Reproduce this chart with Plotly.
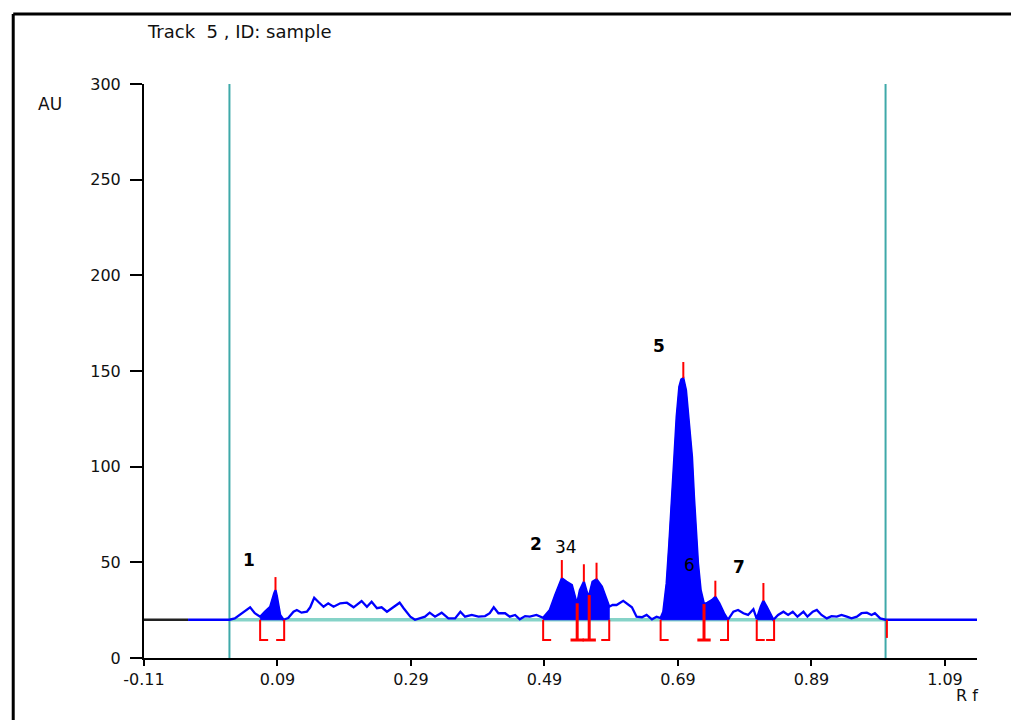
import numpy as np
import plotly.graph_objects as go

# ---- densitogram trace (Rf, AU) ----
rf = [-0.110, -0.044, 0.018, 0.026, 0.036, 0.049, 0.056, 0.064, 0.071, 0.079, 0.085, 0.087,
      0.089, 0.094, 0.099, 0.106, 0.114, 0.119, 0.126, 0.134, 0.139, 0.145, 0.151, 0.159,
      0.166, 0.174, 0.184, 0.194, 0.204, 0.216, 0.224, 0.231, 0.239, 0.246, 0.254, 0.264,
      0.273, 0.279, 0.289, 0.296, 0.304, 0.311, 0.318, 0.326, 0.336, 0.346, 0.356, 0.364,
      0.371, 0.381, 0.391, 0.401, 0.408, 0.414, 0.421, 0.431, 0.438, 0.446, 0.453, 0.461,
      0.468, 0.478, 0.488, 0.498, 0.506, 0.512, 0.516, 0.523, 0.531, 0.537, 0.539, 0.543,
      0.549, 0.554, 0.557, 0.562, 0.568, 0.576, 0.582, 0.587, 0.592, 0.598, 0.608, 0.613,
      0.621, 0.628, 0.636, 0.643, 0.651, 0.658, 0.664, 0.668, 0.673, 0.677, 0.681, 0.684,
      0.688, 0.692, 0.695, 0.698, 0.702, 0.707, 0.711, 0.714, 0.717, 0.720, 0.724, 0.728,
      0.729, 0.734, 0.741, 0.746, 0.752, 0.759, 0.765, 0.773, 0.780, 0.788, 0.795, 0.803,
      0.808, 0.814, 0.818, 0.823, 0.828, 0.833, 0.840, 0.848, 0.855, 0.862, 0.869, 0.878,
      0.884, 0.892, 0.898, 0.905, 0.913, 0.920, 0.928, 0.935, 0.943, 0.950, 0.958, 0.965,
      0.973, 0.980, 0.985, 0.993, 1.001, 1.138]
au = [20.0, 20.0, 20.0, 20.7, 23.4, 26.5, 23.4, 21.6, 24.2, 26.8, 33.8, 35.5,
      32.4, 22.5, 20.0, 20.9, 24.2, 25.1, 23.7, 24.2, 26.5, 31.5, 29.4, 26.8,
      28.6, 26.8, 28.6, 28.9, 26.5, 29.8, 26.8, 29.4, 26.0, 26.5, 24.2, 26.8,
      28.9, 26.0, 21.6, 20.0, 20.7, 21.6, 23.7, 21.6, 23.7, 20.7, 20.7, 24.2,
      21.6, 22.5, 21.6, 21.9, 23.4, 26.5, 23.4, 23.4, 21.6, 22.5, 20.2, 21.9,
      21.6, 22.5, 21.0, 25.1, 32.9, 38.1, 41.7, 39.9, 38.1, 30.3, 28.6, 35.5,
      39.9, 33.8, 32.9, 39.9, 41.1, 37.3, 32.0, 26.8, 27.7, 27.7, 29.9, 28.6,
      26.5, 21.6, 21.3, 22.5, 20.2, 21.6, 20.9, 24.2, 39.0, 59.9, 80.8, 101.7,
      126.1, 141.8, 145.6, 146.3, 140.0, 122.7, 105.2, 84.3, 66.9, 49.5, 35.5, 28.6,
      28.2, 28.9, 30.3, 32.0, 28.6, 23.4, 20.0, 24.2, 25.1, 23.4, 22.5, 25.5,
      20.4, 26.8, 29.9, 26.8, 23.4, 20.0, 22.5, 24.2, 22.5, 24.2, 21.6, 24.2,
      21.6, 24.2, 25.1, 22.5, 20.7, 21.9, 21.6, 22.5, 21.6, 20.7, 21.6, 23.4,
      23.7, 22.5, 23.4, 20.7, 20.0, 20.0]

baseline_au = 20.0
track_start = 0.018
track_end = 1.001
scan_start = -0.044

# peak labels
peak_labels = ["<b>1</b>", "<b>2</b>", "34", "<b>5</b>", "6", "<b>7</b>"]
label_rf = [0.047, 0.478, 0.522, 0.662, 0.708, 0.781]
label_au = [51.0, 59.6, 58.2, 163.0, 48.6, 47.7]

# peak apex markers
apex_rf = [0.087, 0.516, 0.549, 0.568, 0.698, 0.746, 0.818]
apex_top = [42.3, 51.2, 49.0, 49.8, 154.7, 40.4, 39.2]

# integration windows and shared boundaries
win_start = [0.064, 0.488, 0.664, 0.808]
win_end = [0.100, 0.587, 0.765, 0.834]
split_rf = [0.539, 0.557, 0.729]
bracket_au = 9.4
end_mark_rf = 1.003
end_mark_au = 10.5

x_ticks = [-0.11, 0.09, 0.29, 0.49, 0.69, 0.89, 1.09]
x_ticktext = ["-0.11", "0.09", "0.29", "0.49", "0.69", "0.89", "1.09"]
y_ticks = [0, 50, 100, 150, 200, 250, 300]

rf_a = np.array(rf)
au_a = np.array(au)

BLUE = "#0000ff"
RED = "#ff0000"
TEAL = "#3fa9a9"
MINT = "#86d3c8"
FONT = "DejaVu Sans"

fig = go.Figure()

# mint baseline
fig.add_trace(go.Scatter(x=[track_start, track_end], y=[baseline_au, baseline_au], mode="lines",
                         line=dict(color=MINT, width=3.5), hoverinfo="skip", showlegend=False))
# teal track limits
for xv in (track_start, track_end):
    fig.add_trace(go.Scatter(x=[xv, xv], y=[0, 300], mode="lines",
                             line=dict(color=TEAL, width=2), hoverinfo="skip", showlegend=False))

# filled peak areas
for s, e in zip(win_start, win_end):
    m = (rf_a > s) & (rf_a < e)
    xs = [s] + list(rf_a[m]) + [e]
    ys = [float(np.interp(s, rf_a, au_a))] + list(au_a[m]) + [float(np.interp(e, rf_a, au_a))]
    xs += [e, s]
    ys += [baseline_au, baseline_au]
    fig.add_trace(go.Scatter(x=xs, y=ys, mode="lines", fill="toself", fillcolor=BLUE,
                             line=dict(color=BLUE, width=1), hoverinfo="skip", showlegend=False))

# signal: black lead-in, blue afterwards
m0 = rf_a <= scan_start
fig.add_trace(go.Scatter(x=rf_a[m0], y=au_a[m0], mode="lines",
                         line=dict(color="#222222", width=2.5), hoverinfo="skip", showlegend=False))
m1 = rf_a >= scan_start
fig.add_trace(go.Scatter(x=rf_a[m1], y=au_a[m1], mode="lines",
                         line=dict(color=BLUE, width=2.3), hoverinfo="skip", showlegend=False))

# red apex ticks
ax, ay = [], []
for r, t in zip(apex_rf, apex_top):
    ax += [r, r, None]
    ay += [float(np.interp(r, rf_a, au_a)), t, None]
fig.add_trace(go.Scatter(x=ax, y=ay, mode="lines", line=dict(color=RED, width=2),
                         hoverinfo="skip", showlegend=False))

# red integration brackets
bx, by = [], []
for s, e in zip(win_start, win_end):
    arm = min(0.012, (e - s) / 2)
    bx += [s + arm, s, s, None, e - arm, e, e, None]
    by += [bracket_au, bracket_au, baseline_au, None, bracket_au, bracket_au, baseline_au, None]
bx += [end_mark_rf, end_mark_rf, None]
by += [baseline_au, end_mark_au, None]
fig.add_trace(go.Scatter(x=bx, y=by, mode="lines", line=dict(color=RED, width=2),
                         hoverinfo="skip", showlegend=False))
sx, sy = [], []
for r in split_rf:
    sx += [r, r, None, r - 0.01, r + 0.01, None]
    sy += [float(np.interp(r, rf_a, au_a)), bracket_au, None, bracket_au, bracket_au, None]
fig.add_trace(go.Scatter(x=sx, y=sy, mode="lines", line=dict(color=RED, width=3),
                         hoverinfo="skip", showlegend=False))

for t, x, y in zip(peak_labels, label_rf, label_au):
    fig.add_annotation(x=x, y=y, xref="x", yref="y", text=t, showarrow=False,
                       xanchor="center", yanchor="middle",
                       font=dict(family=FONT, size=17, color="black"))

fig.add_annotation(x=0.1152, y=1.0906, xref="paper", yref="paper", text="Track  5 , ID: sample",
                   showarrow=False, xanchor="center", yanchor="middle",
                   font=dict(family=FONT, size=18, color="#111"))
fig.add_annotation(x=-0.1128, y=0.9652, xref="paper", yref="paper", text="AU",
                   showarrow=False, xanchor="center", yanchor="middle",
                   font=dict(family=FONT, size=17, color="#111"))
fig.add_annotation(x=0.988, y=-0.0662, xref="paper", yref="paper", text="R f",
                   showarrow=False, xanchor="center", yanchor="middle",
                   font=dict(family=FONT, size=16, color="#111"))

# outer frame (top and left edges)
fig.add_shape(type="line", xref="paper", yref="paper", x0=-0.157, x1=1.07, y0=1.122, y1=1.122,
              line=dict(color="black", width=3))
fig.add_shape(type="line", xref="paper", yref="paper", x0=-0.157, x1=-0.157, y0=-0.12, y1=1.122,
              line=dict(color="black", width=3))

# page body has an 8px margin on left/top, so the figure is 8px smaller and shifted
fig.update_layout(
    width=1011, height=712,
    margin=dict(l=136, r=42, t=76, b=62),
    paper_bgcolor="white", plot_bgcolor="white",
    showlegend=False,
    font=dict(family=FONT, size=14, color="#111"),
    xaxis=dict(range=[-0.11, 1.138], tickvals=x_ticks, ticktext=x_ticktext,
               showgrid=False, zeroline=False, showline=True, linecolor="black", linewidth=2,
               ticks="outside", ticklen=6, tickwidth=1.5, tickcolor="black",
               tickfont=dict(family=FONT, size=16, color="#111")),
    yaxis=dict(range=[0, 300], tickvals=y_ticks,
               showgrid=False, zeroline=False, showline=True, linecolor="black", linewidth=2,
               ticks="outside", ticklen=12, tickwidth=1.5, tickcolor="black",
               ticklabelstandoff=6,
               tickfont=dict(family=FONT, size=16, color="#111")),
)

fig.write_html("out.html")
